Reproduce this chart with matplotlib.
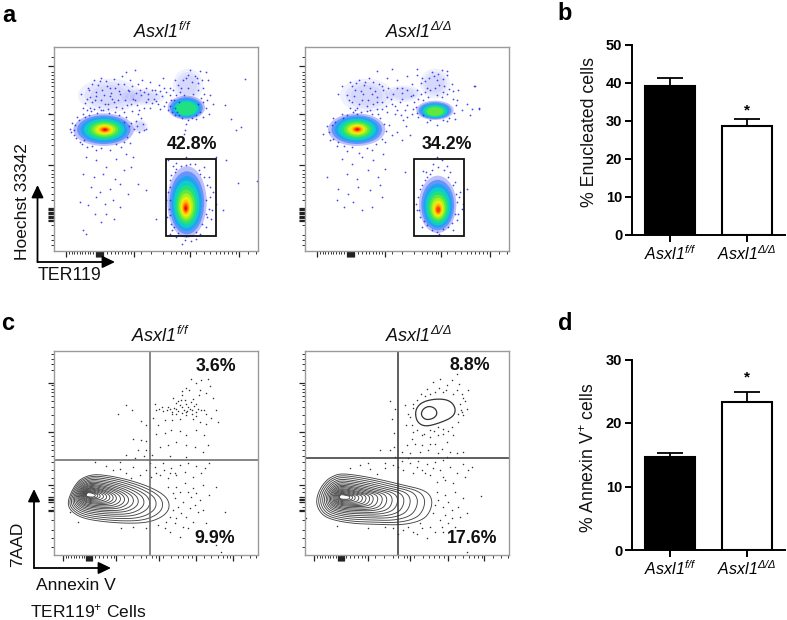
import numpy as np
import matplotlib
matplotlib.use("Agg")
import matplotlib.pyplot as plt
from matplotlib.patches import Ellipse, Rectangle, Polygon

plt.rcParams['font.family'] = ['Liberation Sans', 'DejaVu Sans']
plt.rcParams['mathtext.fontset'] = 'custom'
plt.rcParams['mathtext.rm'] = 'Liberation Sans'
plt.rcParams['mathtext.it'] = 'Liberation Sans:italic'
plt.rcParams['mathtext.sf'] = 'Liberation Sans:italic'
plt.rcParams['mathtext.bf'] = 'Liberation Sans:bold'

# bar panels
title_f = r"$\mathsf{Asxl1}^{\mathsf{f/f}}$"
title_d = r"$\mathsf{Asxl1}^{\mathsf{\Delta/\Delta}}$"
groups = [title_f, title_d]
enucleated = [39.1, 28.6]
enucleated_err = [2.2, 1.8]
annexin = [14.7, 23.3]
annexin_err = [0.6, 1.6]

# flow plots: positions are read in the scale of the 3x crops of the picture
# populations are cx, cy, width, height, how many colour levels are reached
pops_a_left = [(312, 388, 182, 98, 12), (560, 322, 112, 72, 5), (562, 605, 118, 215, 12)]
pops_a_right = [(260, 388, 172, 98, 12), (495, 330, 112, 58, 6), (503, 612, 112, 172, 11)]
# inner hot spot (red end) of each population, cx, cy
hot_a_left = [(316, 388), (560, 328), (558, 625)]
hot_a_right = [(262, 387), (495, 336), (505, 630)]
# faint haze where the dots are thick
haze_a_left = [(330, 285, 190, 100), (565, 255, 90, 100), (430, 290, 130, 50), (420, 378, 50, 40)]
haze_a_right = [(290, 285, 160, 100), (495, 250, 90, 90), (400, 280, 110, 50)]

a_left_dots = [(265,262),(272,290),(283,240),(295,255),(305,232),(318,241),(330,262),(342,236),(355,250),(368,228),(380,214),(392,240),
 (405,208),(415,252),(428,238),(440,262),(452,245),(465,268),(478,255),(490,232),(500,275),(245,282),(255,308),(270,322),(285,300),(298,320),
 (312,285),(325,310),(338,295),(350,320),(362,280),(375,300),(388,272),(400,295),(412,315),(425,285),(438,305),(450,322),(462,295),(475,312),
 (488,288),(500,305),(512,262),(525,240),(515,300),(530,285),(545,262),(558,232),(570,210),(585,228),(600,212),(618,215),(625,240),(610,262),
 (595,248),(630,285),(640,310),(628,340),(610,350),(590,356),(548,352),(525,345),(505,330),(558,372),(556,390),(552,402),(210,385),(218,368),
 (222,405),(232,350),(240,425),(250,340),(262,440),(275,332),(290,448),(310,328),(330,450),(345,335),(365,440),(380,350),(392,428),(402,385),
 (408,362),(418,395),(430,372),(440,385),(425,352),(260,470),(290,480),(320,500),(350,475),(378,460),(400,470),(250,520),(282,530),(310,520),
 (345,535),(372,510),(395,500),(415,550),(275,560),(300,575),(330,565),(360,550),(385,580),(240,605),(265,615),(290,590),(315,610),(340,600),
 (362,620),(285,640),(320,640),(250,690),(258,700),(305,665),(342,655),(440,570),(470,655),(505,480),(530,488),(560,470),(585,490),(612,500),
 (628,530),(640,575),(648,610),(635,655),(618,680),(600,700),(575,722),(555,718),(530,710),(518,690),(503,650),(498,600),(510,540),(525,515),
 (675,315),(695,355),(725,380),(710,390),(737,237),(680,480),(715,548),(772,543),(670,630),(650,470),
 (268,270),(278,252),(288,275),(300,243),(308,268),(322,258),(334,278),(347,262),(358,272),(372,252),(384,268),(396,258),(408,278),(420,268),
 (432,275),(446,282),(458,270),(470,282),(482,272),(492,262),(262,296),(276,306),(290,286),(304,298),(316,312),(330,288),(344,306),(356,298),
 (368,322),(382,315),(394,310),(406,300),(418,328),(432,322),(444,295),(456,308),(468,302),(480,325),(492,318),(250,322),(262,330),(282,326),
 (304,330),(326,326),(372,335),(396,332),(416,342),(520,270),(535,255),(550,240),(565,225),(578,245),(592,232),(606,238),(540,275),(552,285),
 (566,262),(580,280),(596,270),(612,282),(622,298),(510,285),(524,298),(538,305),(512,318),(526,322),(610,305),(618,322),(602,335),(590,345),
 (578,352),(566,358),(538,345),(518,335),(605,292),(596,312),(532,335),(226,375),(214,395),(230,412),(246,432),(256,350),(268,345),(292,338),
 (328,338),(358,345),(374,365),(388,378),(382,410),(372,425),(350,432),(305,442),(276,436),(252,418),(238,360),(224,388),(395,368),(412,378),
 (432,388),(520,498),(545,496),(572,492),(598,510),(612,530),(622,555),(630,590),(628,625),(622,650),(608,672),(590,695),(560,708),(535,698),
 (515,670),(508,625),(505,575),(514,525),(530,505),(632,560),(636,628),(512,700),(548,730),(590,715),(560,495),(600,520),(618,600),(618,640),
 (512,560),(510,600),(512,645),(524,680)]
a_right_dots = [(240,245),(255,268),(268,240),(282,255),(296,232),(310,245),(322,212),(335,258),(350,232),(365,205),(380,240),(395,262),
 (410,228),(425,250),(440,205),(455,232),(470,262),(485,215),(500,240),(515,208),(530,225),(545,250),(520,275),(232,285),(246,305),(260,322),
 (275,298),(290,318),(305,280),(320,305),(335,325),(350,290),(365,310),(380,330),(395,295),(410,315),(425,340),(430,285),(215,258),(205,280),
 (560,298),(575,330),(590,310),(605,325),(612,258),(628,325),(565,270),(555,355),(530,362),(500,375),(470,365),(445,350),(430,325),(160,400),
 (172,378),(180,420),(190,352),(200,438),(215,342),(230,452),(248,335),(268,458),(290,332),(305,448),(325,342),(345,425),(358,375),(365,405),
 (380,395),(395,420),(408,378),(420,405),(400,360),(170,530),(215,475),(245,490),(275,470),(310,480),(340,462),(230,520),(260,535),(295,510),
 (325,530),(345,505),(205,565),(235,580),(265,560),(300,570),(330,555),(200,600),(222,620),(250,605),(275,630),(305,620),(335,590),(405,515),
 (460,512),(490,490),(515,480),(540,515),(555,545),(568,590),(575,625),(560,660),(535,680),(500,695),(470,675),(450,650),(438,610),(450,565),
 (470,530),(615,258),(628,323),(600,345),(500,470),(590,565),
 (246,258),(258,248),(272,272),(286,244),(300,262),(314,272),(326,252),(340,270),(354,262),(368,280),(382,262),(396,278),(410,270),(422,286),
 (238,300),(252,288),(266,312),(280,282),(294,300),(308,312),(322,290),(336,306),(348,318),(362,296),(376,316),(390,306),(404,328),(240,322),
 (254,330),(272,335),(300,328),(320,325),(352,335),(374,342),(392,345),(410,350),(440,225),(452,248),(465,242),(478,232),(492,228),(505,222),
 (518,235),(532,212),(440,268),(452,280),(466,275),(480,268),(494,262),(508,255),(522,258),(536,265),(550,272),(445,295),(432,305),(438,320),
 (548,295),(558,315),(552,338),(538,352),(520,358),(480,358),(458,345),(442,338),(500,285),(515,290),(530,280),(475,290),(460,300),(185,375),
 (176,395),(190,415),(205,425),(218,352),(232,345),(262,340),(305,340),(330,352),(342,372),(348,392),(336,415),(318,432),(290,442),(245,440),
 (222,438),(195,365),(468,515),(485,508),(505,500),(522,510),(535,530),(548,555),(558,580),(562,605),(556,640),(545,668),(520,685),(485,688),
 (462,662),(448,630),(444,590),(455,555),(465,540),(480,520),(530,498),(570,575),(440,630),(455,680),(508,702),(548,690),(578,610),(565,640)]
c_left_dots = [(378,283),(398,300),(355,310),(425,332),(438,345),(400,385),(425,390),(440,392),(378,435),(415,420),(440,420),(432,438),
 (465,280),(478,295),(490,302),(505,290),(518,305),(530,295),(540,285),(552,298),(565,290),(578,300),(590,305),(605,300),(620,312),(612,298),
 (548,242),(560,232),(575,205),(590,218),(605,210),(625,205),(632,228),(618,248),(598,255),(580,265),(555,268),(535,272),(520,262),(640,262),
 (650,298),(655,335),(635,322),(620,340),(600,335),(580,325),(560,315),(540,325),(518,330),(495,330),(475,345),(460,322),(470,372),(495,368),
 (515,358),(540,362),(560,375),(590,360),(612,375),(625,405),(610,425),(585,410),(560,405),(530,395),(505,405),(480,410),(458,435),(510,438),
 (560,440),(360,455),(400,470),(380,490),(420,495),(440,480),(465,470),(490,460),(515,475),(540,465),(565,458),(590,468),(615,475),(628,460),
 (480,495),(505,505),(530,495),(555,485),(580,500),(605,490),(530,530),(555,520),(580,535),(610,525),(650,530),(525,565),(550,575),(575,560),
 (600,570),(520,600),(545,610),(570,595),(595,605),(675,605),(500,635),(525,640),(550,650),(580,635),(620,640),(475,645),(440,655),(400,650),
 (365,655),(540,680),(600,690),(650,705),(665,725),(285,455),(210,605),(235,635),
 (510,296),(522,292),(534,302),(546,290),(558,304),(570,296),(582,288),(596,296),(516,312),(530,310),(546,308),(562,302),(576,312),(590,318),
 (528,278),(544,270),(560,280),(574,275),(588,282),(502,300),(488,290),(470,300),(548,255),(568,240),(600,240),(470,490),(492,480),(512,490),
 (505,530),(520,548),(540,545),(566,545),(590,550),(628,555),(535,590),(560,620),(585,585),(610,600),(530,625),(565,655),(590,665),(510,620),
 (495,655),(510,665),(525,490),(455,500),(450,460),(405,445),(340,480),(318,468),(360,478),(395,505)]
c_right_dots = [(360,272),(375,295),(365,325),(373,368),(372,410),(330,420),(360,420),(375,440),(405,285),(415,310),(408,345),(430,365),
 (425,385),(410,405),(395,425),(420,428),(435,400),(455,405),(475,420),(495,400),(515,415),(540,425),(560,430),(578,425),(530,395),(505,375),
 (480,380),(455,375),(520,355),(545,350),(565,335),(580,315),(590,295),(578,262),(595,240),(568,222),(545,210),(560,190),(530,225),(510,205),
 (490,215),(470,235),(495,245),(520,245),(548,250),(440,270),(430,280),(505,350),(480,360),(240,475),(270,465),(295,460),(320,492),(345,475),
 (370,465),(395,452),(420,460),(445,452),(470,462),(495,455),(520,450),(400,480),(430,490),(455,480),(480,495),(510,480),(540,470),(578,462),
 (605,472),(500,515),(525,510),(550,520),(585,500),(500,545),(525,555),(555,545),(580,565),(632,557),(495,585),(520,590),(545,600),(570,620),
 (490,610),(510,630),(535,640),(555,650),(480,650),(455,655),(430,665),(400,660),(370,655),(345,650),(295,655),(200,648),(108,625),(470,685),
 (440,672),(590,725),(520,665),
 (452,252),(466,258),(480,250),(508,232),(528,240),(560,240),(575,250),(585,272),(570,280),(572,300),(565,310),(575,305),(428,292),(420,320),
 (426,345),(440,358),(462,372),(492,362),(535,362),(548,375),(520,372),(480,400),(450,425),(505,430),(530,440),(415,445),(385,470),(345,460),
 (300,478),(440,470),(465,490),(490,475),(520,500),(560,490),(595,480),(505,570),(535,575),(565,590),(590,610),(525,615),(545,625),(515,650),
 (495,665),(450,640),(415,650),(385,672)]

# contour outlines, all rings are read as a share of the outer one round the hot spot
c_left_outer = [(245,505),(280,492),(330,497),(390,510),(450,530),(495,555),(510,580),(505,605),(480,625),(440,638),(380,640),(310,635),
 (250,625),(215,605),(203,580),(215,545),(230,520)]
c_right_outer = [(185,500),(210,490),(260,495),(330,508),(400,525),(465,540),(487,565),(483,600),(460,630),(400,645),(320,643),(240,640),
 (170,625),(145,600),(138,570),(150,535),(170,510)]
c_right_top = [(435,300),(455,275),(500,265),(540,270),(558,295),(550,320),(510,338),(465,350),(440,335)]
c_right_top_inner = [(453,310),(460,295),(478,287),(497,295),(502,312),(490,325),(470,329),(458,322)]
focus_left = (265, 553)
focus_right = (215, 560)
ring_share = [1, .92, .84, .76, .69, .62, .56, .5, .45, .4, .35, .31, .27, .23, .19, .15, .12, .09]

# log-like ticks of the flow plots
a_y_major = [198, 340, 495, 622, 626, 630, 634, 638, 642, 646, 650, 654, 658, 662]
a_y_minor = [170, 215, 225, 235, 245, 258, 272, 290, 310, 360, 372, 385, 400, 415, 435, 460, 510, 520, 530, 545, 560, 580, 600,
             675, 705, 720, 735]
a_x_major = [200, 290, 293, 296, 299, 302, 305, 308, 311, 403, 570, 717]
a_x_minor = [208, 216, 224, 232, 240, 248, 256, 264, 272, 280, 322, 334, 345, 356, 366, 376, 386, 395,
             425, 455, 490, 515, 530, 545, 555, 562, 590, 612, 632, 648, 660, 672, 684, 696, 708, 745, 770]
c_y_major = [217, 365, 525, 562, 566, 570, 575, 600, 604]
c_y_minor = [130, 145, 160, 178, 225, 235, 245, 258, 272, 290, 315, 340, 378, 392, 405, 420, 438, 455, 480, 505, 535, 545,
             590, 630, 660, 685, 712]
c_x_major = [190, 260, 263, 266, 269, 272, 275, 278, 350, 478, 590, 700]
c_x_minor = [198, 206, 214, 222, 230, 238, 246, 254, 286, 298, 310, 322, 334, 342, 372, 400, 425, 440, 458, 468,
             490, 515, 535, 550, 565, 578, 612, 635, 655, 670, 682, 692, 725, 750, 770]

level_share = [1, .88, .77, .66, .55, .45, .36, .28, .21, .15, .1, .05]
level_col = ["#2a30f0", "#1c70ff", "#10a8f0", "#10d0c8", "#20e080", "#60e840", "#a8f020", "#e8f010", "#ffc800", "#ff8800", "#ff4000", "#e80000"]
level_alpha = [.3, .55, .8, .95, 1, 1, 1, 1, 1, 1, 1, 1]

W, H = 787, 620
fig = plt.figure(figsize=(W / 100, H / 100), dpi=100)


def px_axes(x0, y0, x1, y1):
    return fig.add_axes([x0 / W, 1 - y1 / H, (x1 - x0) / W, (y1 - y0) / H])


def smooth(pts, n=3):
    # corner cutting so the read outline is round
    p = np.array(pts, dtype=float)
    for _ in range(n):
        q = np.roll(p, -1, axis=0)
        p = np.column_stack([.75 * p + .25 * q, .25 * p + .75 * q]).reshape(-1, 2)
    return p


def flow_frame(x0, y0, xlim, ylim, xmaj, xmin, ymaj, ymin, dx):
    ax = px_axes(x0, y0, x0 + 204, y0 + 204)
    ax.set_xlim(*xlim)
    ax.set_ylim(*ylim)
    for s in ax.spines.values():
        s.set_color("#9a9a9a")
        s.set_linewidth(1.0)
    ax.set_xticks(np.array(xmaj) + dx)
    ax.set_xticks(np.array(xmin) + dx, minor=True)
    ax.set_yticks(ymaj)
    ax.set_yticks(ymin, minor=True)
    ax.tick_params(which="major", length=4.5, width=0.9, color="#222222", labelbottom=False, labelleft=False)
    ax.tick_params(which="minor", length=2.4, width=0.7, color="#333333")
    return ax


def pseudo_plot(ax, pops, hots, haze, dots, gate, label, label_xy):
    for hx, hy, hw, hh in haze:
        for s in (1, .8, .6):
            ax.add_patch(Ellipse((hx, hy), hw * s, hh * s, color="#4a50f5", alpha=0.08, lw=0))
    for (cx, cy, w, h, n), (fx, fy) in zip(pops, hots):
        for k in range(n):
            s = level_share[k]
            ex = fx + (cx - fx) * s
            ey = fy + (cy - fy) * s
            ax.add_patch(Ellipse((ex, ey), w * s, h * s, color=level_col[k], alpha=level_alpha[k], lw=0))
    d = np.array(dots)
    ax.scatter(d[:, 0], d[:, 1], s=1.6, color="#2228ee", lw=0, alpha=0.85)
    ax.add_patch(Rectangle((gate[0], gate[1]), gate[2], gate[3], fill=False, ec="#111111", lw=1.3))
    ax.text(label_xy[0], label_xy[1], label, fontsize=12.8, fontweight="bold", ha="center", va="center", color="#111111")


def contour_plot(ax, outer, focus, dots, vline, hline, line_col):
    d = np.array(dots)
    ax.scatter(d[:, 0], d[:, 1], s=1.2, color="#333333", lw=0)
    o = smooth(outer)
    f = np.array(focus)
    for s in ring_share:
        ax.add_patch(Polygon(f + (o - f) * s, closed=True, fill=False, ec="#444444", lw=0.65))
    ax.axvline(vline, color=line_col, lw=1.1)
    ax.axhline(hline, color=line_col, lw=1.1)


def bar_plot(x0, y0, x1, y1, vals, errs, ymax, yticks, star_y):
    ax = px_axes(x0, y0, x1, y1)
    pos = np.arange(len(vals))
    ax.bar(pos[0], vals[0], 0.66, color="black", ec="black", lw=1.5)
    ax.bar(pos[1], vals[1], 0.66, color="white", ec="black", lw=1.5)
    ax.errorbar(pos, vals, yerr=[[0, 0], errs], fmt="none", ecolor="black", elinewidth=1.3, capsize=9.5, capthick=1.3)
    ax.set_xlim(-0.5, 1.5)
    ax.set_ylim(0, ymax)
    ax.set_yticks(yticks)
    ax.set_xticks(pos, groups, fontsize=11.5)
    ax.tick_params(axis="y", labelsize=10.5, length=5, width=1.4, pad=2)
    ax.tick_params(axis="x", length=5, width=1.4, pad=2)
    for t in ax.get_yticklabels():
        t.set_fontweight("bold")
    for s in ("top", "right"):
        ax.spines[s].set_visible(False)
    for s in ("left", "bottom"):
        ax.spines[s].set_linewidth(1.4)
    ax.text(1, star_y, "*", fontsize=11, fontweight="bold", ha="center", va="center")
    return ax


ax_a1 = flow_frame(54, 47, (163, 775), (752, 140), a_x_major, a_x_minor, a_y_major, a_y_minor, 0)
pseudo_plot(ax_a1, pops_a_left, hot_a_left, haze_a_left, a_left_dots, (500, 476, 148, 230), "42.8%", (578, 433))
ax_a2 = flow_frame(305, 47, (105, 717), (752, 140), a_x_major, a_x_minor, a_y_major, a_y_minor, -58)
pseudo_plot(ax_a2, pops_a_right, hot_a_right, haze_a_right, a_right_dots, (433, 476, 148, 230), "34.2%", (531, 433))

ax_c1 = flow_frame(54, 351, (163, 775), (735, 122), c_x_major, c_x_minor, c_y_major, c_y_minor, 0)
contour_plot(ax_c1, c_left_outer, focus_left, c_left_dots, 450, 449, "#666666")
ax_c1.text(648, 168, "3.6%", fontsize=12.8, fontweight="bold", ha="center", va="center", color="#111111")
ax_c1.text(646, 684, "9.9%", fontsize=12.8, fontweight="bold", ha="center", va="center", color="#111111")

ax_c2 = flow_frame(305, 351, (105, 717), (735, 122), c_x_major, c_x_minor, c_y_major, c_y_minor, -57)
contour_plot(ax_c2, c_right_outer, focus_right, c_right_dots, 385, 444, "#333333")
for ring in (c_right_top, c_right_top_inner):
    ax_c2.add_patch(Polygon(smooth(ring), closed=True, fill=False, ec="#333333", lw=0.9))
ax_c2.text(600, 166, "8.8%", fontsize=12.8, fontweight="bold", ha="center", va="center", color="#111111")
ax_c2.text(607, 684, "17.6%", fontsize=12.8, fontweight="bold", ha="center", va="center", color="#111111")

bar_plot(632, 44.5, 785, 235, enucleated, enucleated_err, 50, [0, 10, 20, 30, 40, 50], 32.8)
bar_plot(632, 359.5, 785, 550, annexin, annexin_err, 30, [0, 10, 20, 30], 27.2)

# overlay in pixels for labels and arrows
ov = fig.add_axes([0, 0, 1, 1], facecolor="none")
ov.set_xlim(0, W)
ov.set_ylim(H, 0)
ov.axis("off")

for txt, x, y in [("a", 9, 15), ("b", 565, 13), ("c", 8, 324), ("d", 565, 324)]:
    ov.text(x, y, txt, fontsize=17, fontweight="bold", ha="center", va="center")
for txt, x, y in [(title_f, 162, 32), (title_d, 418, 32), (title_f, 160, 336), (title_d, 418, 336)]:
    ov.text(x, y, txt, fontsize=13, ha="center", va="center", color="#111111")

ov.text(23, 202, "Hoechst 33342", fontsize=12.5, rotation=90, ha="center", va="center", color="#111111")
ov.text(70, 276, "TER119", fontsize=12.8, ha="center", va="center", color="#111111")
ov.text(18, 544, "7AAD", fontsize=12.5, rotation=90, ha="center", va="center", color="#111111")
ov.text(76, 586, "Annexin V", fontsize=12.6, ha="center", va="center", color="#111111")
ov.text(88, 611, r"TER119$^{+}$ Cells", fontsize=12.5, ha="center", va="center", color="#111111")
ov.text(589, 132, "% Enucleated cells", fontsize=12.8, rotation=90, ha="center", va="center", color="#111111")
ov.text(589, 458, r"% Annexin V$^{+}$ cells", fontsize=12.7, rotation=90, ha="center", va="center", color="#111111")

arrow = dict(arrowstyle="-|>,head_length=0.75,head_width=0.36", color="black", lw=1.3, shrinkA=0, shrinkB=0)
ov.annotate("", xy=(37.5, 185), xytext=(37.5, 262), arrowprops=arrow)
ov.annotate("", xy=(115, 262), xytext=(37.5, 262), arrowprops=arrow)
ov.annotate("", xy=(34, 489), xytext=(34, 568), arrowprops=arrow)
ov.annotate("", xy=(111, 568), xytext=(34, 568), arrowprops=arrow)

fig.savefig("out.png", dpi=100)
